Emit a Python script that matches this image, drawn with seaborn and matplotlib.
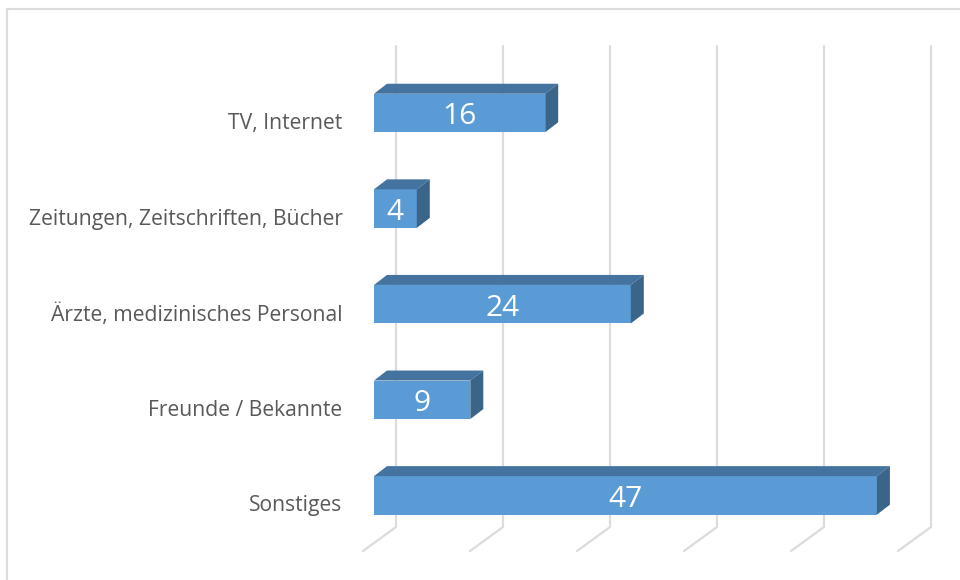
#!/usr/bin/env python3

import pandas as pd
import seaborn as sns
import matplotlib.pyplot as plt
from matplotlib.patches import Polygon, Rectangle
from matplotlib.transforms import ScaledTranslation

categories = ["TV, Internet", "Zeitungen, Zeitschriften, Bücher",
              "Ärzte, medizinisches Personal", "Freunde / Bekannte", "Sonstiges"]
values = [16, 4, 24, 9, 47]
grid_ticks = [0, 10, 20, 30, 40, 50]

FRONT = "#5b9bd5"
TOP = "#44739f"
SIDE = "#3a6589"
GRID = "#dcdcdc"
TEXT = "#595959"

# pixel layout of the picture
X0 = 374
PX_PER_UNIT = 10.7
ROW0 = 113
ROW_STEP = 95.6
W, H = 960, 580


def main():
    sns.set_style("white")
    plt.rcParams["font.family"] = ["Open Sans", "DejaVu Sans"]

    df = pd.DataFrame({"cat": categories, "val": values})
    fig = plt.figure(figsize=(W / 100, H / 100), dpi=100)
    ax = fig.add_axes([X0 / W, 0, (W - X0) / W, 1])
    sns.barplot(x="val", y="cat", data=df, orient="h", color=FRONT, saturation=1,
                width=0.403, ax=ax, zorder=3, linewidth=0)

    ax.set_xlim(0, (W - X0) / PX_PER_UNIT)
    ax.set_ylim((H - ROW0) / ROW_STEP, -ROW0 / ROW_STEP)
    ax.set_xlabel("")
    ax.set_ylabel("")
    ax.set_xticks([])
    sns.despine(ax=ax, left=True, bottom=True, top=True, right=True)
    ax.patch.set_alpha(0)
    ax.tick_params(axis="y", length=0, pad=22.6, labelsize=15.2, labelcolor=TEXT)

    # category labels sit a little below the bar centres in the original
    shift = ScaledTranslation(0, -8 / 100, fig.dpi_scale_trans)
    for lab in ax.get_yticklabels():
        lab.set_transform(lab.get_transform() + shift)

    dx = 13 / PX_PER_UNIT
    dy = 10 / ROW_STEP
    to_y = lambda py: (py - ROW0) / ROW_STEP

    # back wall grid with the slanted floor piece
    for t in grid_ticks:
        gx = t + 22 / PX_PER_UNIT
        ax.plot([gx, gx, gx - 33 / PX_PER_UNIT], [to_y(46), to_y(527), to_y(551)],
                color=GRID, lw=1.6, zorder=1, clip_on=False, solid_joinstyle="miter")

    # extruded faces on top of what barplot drew
    text_shift = ScaledTranslation(0, -4 / 100, fig.dpi_scale_trans)
    for bar, val in zip(ax.patches, values):
        x1 = bar.get_x() + bar.get_width()
        ytop = bar.get_y()
        ybot = ytop + bar.get_height()
        ax.add_patch(Polygon([(0, ytop), (x1, ytop), (x1 + dx, ytop - dy), (dx, ytop - dy)],
                             fc=TOP, ec="none", zorder=4))
        ax.add_patch(Polygon([(x1, ytop), (x1 + dx, ytop - dy), (x1 + dx, ybot - dy), (x1, ybot)],
                             fc=SIDE, ec="none", zorder=4))
        ax.text(val / 2, (ytop + ybot) / 2, str(val), color="white", fontsize=21.5,
                ha="center", va="center", zorder=5, transform=ax.transData + text_shift)

    # chart frame, cropped at the right and bottom edges
    fig.add_artist(Rectangle((7 / W, -0.1), 1.2, 1.1 - 9 / H, transform=fig.transFigure,
                             fc="none", ec=GRID, lw=1.6))

    plt.savefig("out.png", dpi=100)


if __name__ == "__main__":
    main()
